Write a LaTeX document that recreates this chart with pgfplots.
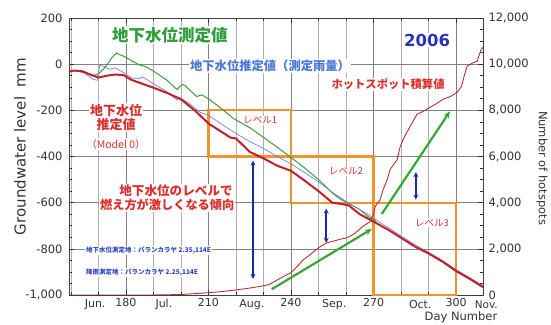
\documentclass[border=0pt]{standalone}
\usepackage{fontspec}
\setmainfont{DejaVu Sans}
\newfontfamily\jp{Noto Sans CJK JP}
\usepackage{pgfplots}
\pgfplotsset{compat=1.18}
\usetikzlibrary{arrows.meta}
\definecolor{gridc}{HTML}{B0B0B0}
\definecolor{majgrid}{HTML}{808080}
\definecolor{tickc}{HTML}{333333}
\definecolor{gline}{HTML}{3C9C3C}
\definecolor{bline}{HTML}{7080E0}
\definecolor{rline}{HTML}{C41E26}
\definecolor{hline}{HTML}{B83030}
\definecolor{orng}{HTML}{F2922E}
\definecolor{darr}{HTML}{1C2AA8}
\definecolor{garr}{HTML}{36A836}
\definecolor{gtxt}{HTML}{2F9E3A}
\definecolor{btxt}{HTML}{4A78D8}
\definecolor{ytxt}{HTML}{2833B8}
\definecolor{rtxt}{HTML}{D9302C}
\definecolor{stxt}{HTML}{3344CC}
\begin{document}
\begin{tikzpicture}
\begin{axis}[
  scale only axis, width=414pt, height=277pt,
  xmin=159.3, xmax=309.8, ymin=-1000, ymax=200,
  xtick={180,210,240,270,300}, xticklabels={180,210,240,270,300},
  minor xtick={160,170,190,200,220,230,250,260,280,290},
  ytick={-1000,-800,-600,-400,-200,0,200},
  yticklabels={{-1,000},-800,-600,-400,-200,0,200},
  minor y tick num=3,
  xmajorgrids=true, xminorgrids=true, ymajorgrids=true,
  major grid style={color=majgrid, line width=0.5pt},
  minor grid style={color=gridc, line width=0.5pt},
  ytick pos=left, xtick pos=both,
  axis line style={color=black!75, line width=0.8pt},
  tick style={color=black!80, line width=0.6pt},
  major tick length=5pt, minor tick length=3pt,
  ticklabel style={font=\fontsize{11.5}{13}\selectfont, color=tickc},
  xticklabel style={font=\fontsize{11}{12}\selectfont, yshift=0pt},
  yticklabel style={xshift=-3pt},
  clip=false,
]
\coordinate (ll) at (rel axis cs:0,0);
\coordinate (ur) at (rel axis cs:1,1);
% texts
\node[fill=white, inner sep=1pt, font=\jp\bfseries\fontsize{16.5}{18}\selectfont, text=gtxt] at (axis cs:196,126) {地下水位測定値};
\node[fill=white, inner sep=1pt, font=\jp\bfseries\fontsize{12.3}{14}\selectfont, text=btxt] at (axis cs:232.4,-9) {地下水位推定値（測定雨量）};
\node[fill=white, inner sep=1pt, font=\bfseries\fontsize{16.5}{18}\selectfont, text=ytxt] at (axis cs:289.5,104) {2006};
\node[fill=white, inner sep=1pt, font=\jp\bfseries\fontsize{11.3}{13}\selectfont, text=rtxt] at (axis cs:275.3,-87) {ホットスポット積算値};
\node[fill=white, inner sep=1pt, font=\jp\bfseries\fontsize{13}{14}\selectfont, text=rtxt] at (axis cs:176.4,-200) {地下水位};
\node[fill=white, inner sep=1pt, font=\jp\bfseries\fontsize{13}{14}\selectfont, text=rtxt] at (axis cs:176.4,-261) {推定値};
\node[fill=white, inner sep=1pt, font=\jp\fontsize{10.5}{12}\selectfont, text=rtxt] at (axis cs:176.4,-348) {（Model 0）};
\node[fill=white, inner sep=1pt, font=\jp\bfseries\fontsize{12.6}{14}\selectfont, text=rtxt] at (axis cs:198.2,-548) {地下水位のレベルで};
\node[fill=white, inner sep=1pt, font=\jp\bfseries\fontsize{12.2}{14}\selectfont, text=rtxt] at (axis cs:195,-609) {燃え方が激しくなる傾向};
\node[fill=white, inner sep=1pt, font=\jp\fontsize{9.5}{10}\selectfont, text=rtxt] at (axis cs:228.8,-243) {レベル1};
\node[fill=white, inner sep=1pt, font=\jp\fontsize{9.5}{10}\selectfont, text=rtxt] at (axis cs:260,-465) {レベル2};
\node[fill=white, inner sep=1pt, font=\jp\fontsize{9.5}{10}\selectfont, text=rtxt] at (axis cs:291.3,-687) {レベル3};
\node[fill=white, inner sep=1pt, anchor=west, font=\jp\bfseries\fontsize{6.5}{7}\selectfont, text=stxt] at (axis cs:165.1,-809) {地下水位測定地：パランカラヤ 2.35,114E};
\node[fill=white, inner sep=1pt, anchor=west, font=\jp\bfseries\fontsize{6.5}{7}\selectfont, text=stxt] at (axis cs:165.1,-904) {降雨測定地：パランカラヤ 2.25,114E};
% month labels
\node[font=\fontsize{11}{12}\selectfont, text=tickc] at ([yshift=-9.5pt]axis cs:168.8,-1000) {Jun.};
\node[font=\fontsize{11}{12}\selectfont, text=tickc] at ([yshift=-9.5pt]axis cs:193.8,-1000) {Jul.};
\node[font=\fontsize{11}{12}\selectfont, text=tickc] at ([yshift=-9.5pt]axis cs:225.8,-1000) {Aug.};
\node[font=\fontsize{11}{12}\selectfont, text=tickc] at ([yshift=-9.5pt]axis cs:255.7,-1000) {Sep.};
\node[font=\fontsize{11}{12}\selectfont, text=tickc] at ([yshift=-9.5pt]axis cs:287,-1000) {Oct.};
\node[font=\fontsize{10.5}{11}\selectfont, text=tickc, inner sep=1pt] at ([yshift=-10pt]axis cs:311,-1000) {Nov.};
% axis labels
\node[rotate=90, font=\fontsize{15}{16}\selectfont, text=tickc] at ([xshift=-49pt]rel axis cs:0,0.536) {Groundwater level\ \ mm};
\node[rotate=-90, font=\fontsize{11.5}{13}\selectfont, text=tickc] at ([xshift=59pt]rel axis cs:1,0.458) {Number of hotspots};
\node[font=\fontsize{11.5}{12}\selectfont, text=tickc, inner sep=1pt] at ([xshift=-22pt,yshift=-22.8pt]rel axis cs:1,0) {Day Number};
% level boxes
\draw[orng, line width=2.2pt] (axis cs:210,-200) rectangle (axis cs:240,-400);
\draw[orng, line width=2.2pt] (axis cs:240,-400) rectangle (axis cs:270,-600);
\draw[orng, line width=2.2pt] (axis cs:270,-600) rectangle (axis cs:300,-1000);
% curves
\addplot[gline, line width=1pt] coordinates {
(159.3,-30) (162,-27) (165,-35) (168,-50) (170,-42) (171.5,-25) (173,-5) (175,30) (176.6,48) (178,40) (180,30) (182,15) (185,-4) (187,-10) (190,-30) (195,-70) (198.5,-110) (200.4,-88) (201.5,-92) (203,-110) (205.7,-140) (207.6,-133) (210,-150) (215,-195) (219,-235) (225,-275) (230,-317) (235,-360) (240,-404) (245,-450) (250,-500) (255,-558) (258,-585) (262,-610) (265,-630) (268,-660) (271,-682)
};
\addplot[bline, line width=0.7pt] coordinates {
(159.3,-30) (162,-28) (165,-40) (168,-65) (169.5,-70) (170.5,-5) (172,-10) (174,-22) (176,-16) (179,-35) (182,-60) (185,-62) (186,-55) (190,-85) (195,-120) (198.5,-155) (199.6,-145) (203,-170) (207,-209) (210,-222) (215,-262) (220,-300) (225,-335) (230,-365) (235,-400) (240,-432) (245,-470) (250,-510) (255,-555) (258,-578) (262,-610) (265,-630) (268,-650) (270,-668) (275,-705) (280,-745) (285,-782) (290,-815) (295,-850) (300,-890) (305,-925) (309.8,-960)
};
\addplot[rline, line width=2pt] coordinates {
(159.3,-32) (161,-28) (164,-30) (167,-45) (170,-58) (173,-50) (176,-45) (179,-47) (182,-68) (186,-85) (190,-102) (195,-125) (200,-152) (205,-200) (210,-257) (215,-295) (218,-318) (220,-322) (225,-380) (230,-408) (235,-440) (240,-462) (245,-505) (250,-550) (255,-600) (258,-605) (261,-612) (265,-650) (270,-682) (275,-715) (280,-752) (285,-790) (290,-820) (295,-855) (300,-896) (305,-930) (309.8,-966)
};
% arrows
\draw[darr, line width=1.6pt, {Stealth[length=5pt,width=5pt]}-{Stealth[length=5pt,width=5pt]}] (axis cs:226.2,-418) -- (axis cs:226.2,-930);
\draw[darr, line width=1.6pt, {Stealth[length=5pt,width=5pt]}-{Stealth[length=5pt,width=5pt]}] (axis cs:252.8,-626) -- (axis cs:252.8,-774);
\draw[darr, line width=1.6pt, {Stealth[length=5pt,width=5pt]}-{Stealth[length=5pt,width=5pt]}] (axis cs:285.4,-468) -- (axis cs:285.4,-587);
\draw[garr, line width=2.2pt, -{Stealth[length=7pt,width=6pt]}] (axis cs:233,-975) -- (axis cs:269.4,-714);
\draw[garr, line width=2.2pt, -{Stealth[length=7pt,width=6pt]}] (axis cs:273,-649) -- (axis cs:297.8,-204);
\end{axis}
\begin{axis}[
  scale only axis, width=414pt, height=277pt,
  xmin=159.3, xmax=309.8, ymin=0, ymax=12000,
  axis x line=none, axis y line*=right,
  scaled y ticks=false,
  ytick={0,2000,4000,6000,8000,10000,12000},
  yticklabels={0,{2,000},{4,000},{6,000},{8,000},{10,000},{12,000}},
  minor y tick num=3,
  axis line style={color=black!75, line width=0.8pt},
  tick style={color=black!80, line width=0.6pt},
  major tick length=5pt, minor tick length=3pt,
  ticklabel style={font=\fontsize{11.5}{13}\selectfont, color=tickc},
  yticklabel style={xshift=2pt},
]
\addplot[hline, line width=0.9pt] coordinates {
(159.3,0) (170,0) (180,0) (190,0) (200,20) (205,60) (210,100) (215,150) (220,220) (225,300) (230,400) (232,450) (235,650) (238,850) (240,960) (242,1200) (244.4,1520) (247,1750) (250,2050) (253,2260) (256,2350) (258,2420) (260.4,2480) (263,2650) (266,2960) (268.7,3170) (270,3500) (270.6,3830) (272.4,4130) (273.5,4570) (275,5000) (276,5430) (278.6,5870) (279.7,6430) (281,6800) (283.3,7300) (285.8,7830) (288,7950) (290.6,8130) (293,8300) (295.3,8480) (298,8600) (300.4,8780) (302,9040) (303,9500) (304,9910) (306,10050) (307.7,10130) (309,10600) (309.8,10740)
};
\end{axis}
\pgfresetboundingbox
\useasboundingbox ([shift={(-69pt,-30pt)}]ll) rectangle ([shift={(68pt,18pt)}]ur);
\end{tikzpicture}
\end{document}
